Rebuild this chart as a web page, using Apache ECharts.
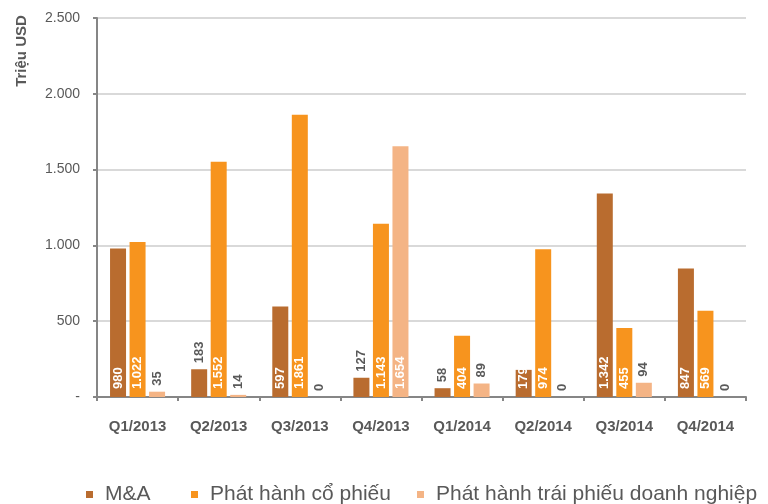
<!DOCTYPE html>
<html>
<head>
<meta charset="utf-8">
<script src="https://cdn.jsdelivr.net/npm/echarts@6/dist/echarts.min.js"></script>
<style>
  html, body { margin: 0; padding: 0; background: #fff; }
  #chart { width: 768px; height: 504px; }
</style>
</head>
<body>
<div id="chart"></div>
<script>
const quarters = ['Q1/2013', 'Q2/2013', 'Q3/2013', 'Q4/2013', 'Q1/2014', 'Q2/2014', 'Q3/2014', 'Q4/2014']
const maValues = [980, 183, 597, 127, 58, 179, 1342, 847]
const stockValues = [1022, 1552, 1861, 1143, 404, 974, 455, 569]
const bondValues = [35, 14, 0, 1654, 89, 0, 94, 0]
// which labels sit above the bar (too short for an inside label)
const maOutside = [false, true, false, true, true, false, false, false]
const stockOutside = [false, false, false, false, false, false, false, false]
const bondOutside = [true, true, true, false, true, true, true, true]

const seriesNames = ['M&A', 'Phát hành cổ phiếu', 'Phát hành trái phiếu doanh nghiệp']
const colors = ['#B96C2F', '#F7941E', '#F4B485']
const textColor = '#595959'

function fmt(v) {
  return String(v).replace(/\B(?=(\d{3})+(?!\d))/g, '.')
}

function barData(values, outside) {
  return values.map((v, i) => ({
    value: v,
    label: outside[i]
      ? { position: 'top', color: textColor, distance: 6 }
      : { position: 'insideBottom', color: '#fff', distance: 8 }
  }))
}

function legendAt(name, color, left) {
  return {
    left: left,
    top: 484,
    padding: 0,
    data: [{ name: name, itemStyle: { color: color } }],
    icon: 'rect',
    itemWidth: 7,
    itemHeight: 7,
    textStyle: { fontFamily: 'Liberation Sans, Arial', fontSize: 21, color: textColor, padding: [0, 0, 0, 7] }
  }
}

const chart = echarts.init(document.getElementById('chart'))
chart.setOption({
  animation: false,
  textStyle: { fontFamily: 'Liberation Sans, Arial' },
  grid: { left: 97, right: 22, top: 18, bottom: 107 },
  legend: [
    legendAt(seriesNames[0], colors[0], 86),
    legendAt(seriesNames[1], colors[1], 191),
    legendAt(seriesNames[2], colors[2], 417)
  ],
  graphic: [{
    type: 'text',
    x: 22,
    y: 51,
    rotation: Math.PI / 2,
    style: {
      text: 'Triệu USD',
      fontFamily: 'Liberation Sans, Arial',
      fontSize: 15,
      fontWeight: 'bold',
      fill: textColor,
      align: 'center',
      verticalAlign: 'middle'
    }
  }],
  xAxis: {
    type: 'category',
    data: quarters,
    axisLine: { lineStyle: { color: '#868686', width: 2 } },
    axisTick: { show: true, length: 4, lineStyle: { color: '#868686', width: 2 } },
    axisLabel: { color: textColor, fontSize: 15, fontWeight: 'bold', margin: 22 }
  },
  yAxis: {
    type: 'value',
    min: 0,
    max: 2500,
    interval: 500,
    axisLine: { show: true, lineStyle: { color: '#868686', width: 2 } },
    axisTick: { show: true, length: 4, lineStyle: { color: '#868686', width: 2 } },
    splitLine: { lineStyle: { color: '#D9D9D9', width: 2 } },
    axisLabel: {
      color: textColor,
      fontSize: 14,
      margin: 17,
      formatter: v => (v === 0 ? '-' : fmt(v))
    }
  },
  series: [
    { name: seriesNames[0], values: maValues, outside: maOutside },
    { name: seriesNames[1], values: stockValues, outside: stockOutside },
    { name: seriesNames[2], values: bondValues, outside: bondOutside }
  ].map((s, i) => ({
    name: s.name,
    type: 'bar',
    barWidth: 16,
    barGap: '22%',
    itemStyle: { color: colors[i] },
    label: {
      show: true,
      rotate: 90,
      align: 'left',
      verticalAlign: 'middle',
      fontSize: 13,
      fontWeight: 'bold',
      formatter: p => fmt(p.value)
    },
    data: barData(s.values, s.outside)
  }))
})
</script>
</body>
</html>
